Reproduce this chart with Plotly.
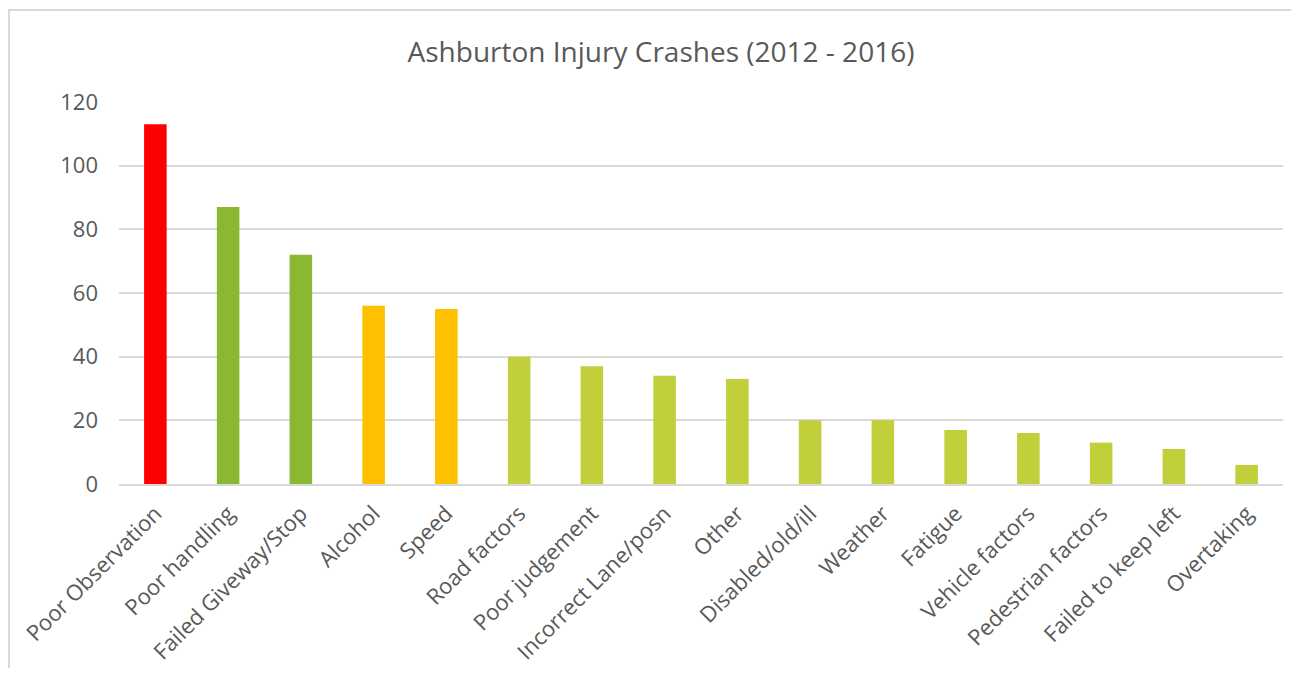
import plotly.graph_objects as go

# Crash causes, Ashburton 2012-2016
causes = [
    "Poor Observation", "Poor handling", "Failed Giveway/Stop", "Alcohol",
    "Speed", "Road factors", "Poor judgement", "Incorrect Lane/posn",
    "Other", "Disabled/old/ill", "Weather", "Fatigue", "Vehicle factors",
    "Pedestrian factors", "Failed to keep left", "Overtaking",
]
crashes = [113, 87, 72, 56, 55, 40, 37, 34, 33, 20, 20, 17, 16, 13, 11, 6]
bar_colors = (["#FF0000"] + ["#8AB833"] * 2 + ["#FFC000"] * 2
              + ["#C0CF3A"] * 11)
y_ticks = [0, 20, 40, 60, 80, 100, 120]

# page body has an 8px margin, so the figure is sized to fit inside it
W, H = 1285, 660
L, R, T, B = 111, 10, 94, 184
text_col = "#595959"
font_family = "Open Sans, Noto Sans, sans-serif"

fig = go.Figure()
fig.add_trace(go.Bar(
    x=causes, y=crashes,
    marker_color=bar_colors,
    marker_line_width=0,
    width=0.31,
))

# light frame around the chart, like the Excel chart area border
pw, ph = W - L - R, H - T - B
fig.add_shape(
    type="rect", xref="paper", yref="paper",
    x0=(1 - L) / pw, x1=(1320 - L) / pw,
    y0=(H - 700 - B) / ph, y1=(H - 2 - B) / ph,
    line=dict(color="#D9D9D9", width=2), layer="below",
)

fig.update_layout(
    width=W, height=H,
    margin=dict(l=L, r=R, t=T, b=B),
    paper_bgcolor="white", plot_bgcolor="white",
    font=dict(family=font_family, color=text_col),
    title=dict(
        text="Ashburton Injury Crashes (2012 - 2016)",
        font=dict(size=28, color=text_col),
        x=653 / W, xanchor="center", xref="container",
        y=1 - 44 / H, yanchor="middle", yref="container",
    ),
    showlegend=False,
    bargap=0.69,
)
fig.update_xaxes(
    tickangle=-45, tickfont=dict(size=22, color=text_col),
    showline=True, linecolor="#D9D9D9", linewidth=2,
    showgrid=False, ticks="", ticklabelstandoff=6, automargin=False,
)
fig.update_yaxes(
    range=[0, 120], tickvals=y_ticks,
    tickfont=dict(size=22, color=text_col),
    showgrid=True, gridcolor="#D9D9D9", gridwidth=1.5,
    zeroline=False, showline=False, ticks="", ticklabelstandoff=20,
    automargin=False,
)

fig.write_html("out.html")
